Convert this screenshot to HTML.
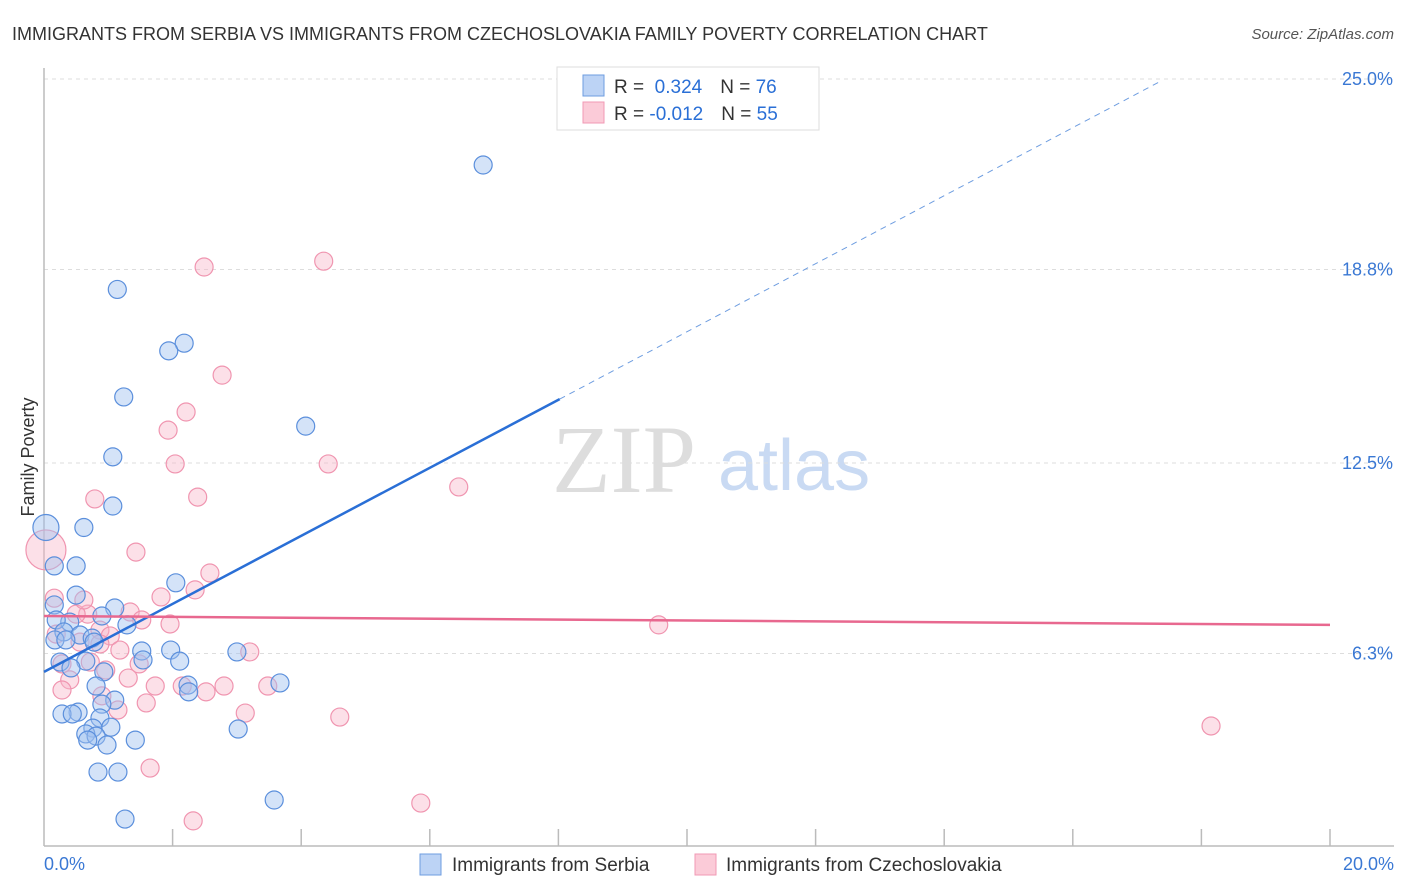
<!DOCTYPE html>
<html><head><meta charset="utf-8"><style>
body{margin:0;background:#fff;font-family:"Liberation Sans",sans-serif}
svg{display:block}
</style></head><body>
<svg id="chart" width="1406" height="892" xmlns="http://www.w3.org/2000/svg">
<text x="12" y="40" font-size="18" fill="#333">IMMIGRANTS FROM SERBIA VS IMMIGRANTS FROM CZECHOSLOVAKIA FAMILY POVERTY CORRELATION CHART</text>
<text x="1394" y="39" font-size="15" fill="#555" font-style="italic" text-anchor="end">Source: ZipAtlas.com</text>
<text x="34" y="457" font-size="18" fill="#333" transform="rotate(-90 34 457)" text-anchor="middle">Family Poverty</text>
<g><text x="552" y="492" font-size="96" fill="#ddd" font-family="Liberation Serif,serif">ZIP</text><text x="718" y="490" font-size="72" fill="#c9daf3">atlas</text></g>
<g id="grid"></g><g id="pts"></g><g id="lines"></g>
<g>
<rect x="557" y="67" width="262" height="63" fill="#fff" stroke="#ddd"/>
<rect x="583" y="75" width="21" height="21" fill="#bcd3f5" stroke="#6e9de0"/>
<rect x="583" y="102" width="21" height="21" fill="#fbcbd8" stroke="#f09ab4"/>
<text x="614" y="93" font-size="19" fill="#333">R = <tspan fill="#2a6fd6">&#160;0.324</tspan><tspan dx="18">N = </tspan><tspan fill="#2a6fd6">76</tspan></text>
<text x="614" y="120" font-size="19" fill="#333">R = <tspan fill="#2a6fd6">-0.012</tspan><tspan dx="18">N = </tspan><tspan fill="#2a6fd6">55</tspan></text>
</g>
<g>
<rect x="420" y="854" width="21" height="21" fill="#bcd3f5" stroke="#6e9de0"/>
<text x="452" y="871" font-size="19" fill="#333">Immigrants from Serbia</text>
<rect x="695" y="854" width="21" height="21" fill="#fbcbd8" stroke="#f09ab4"/>
<text x="726" y="871" font-size="19" fill="#333">Immigrants from Czechoslovakia</text>
</g>
</svg>
<script>
const yTicks=[25.0,18.8,12.5,6.3];
const yTickLabels=["25.0%","18.8%","12.5%","6.3%"];
const xLabels=["0.0%","20.0%"];
const serbiaX=[6.83,1.14,2.18,1.94,1.24,4.07,1.07,1.07,0.62,0.03,0.16,0.5,0.5,2.05,0.16,1.1,0.9,0.4,0.19,1.29,0.31,0.56,0.75,0.17,0.34,0.78,1.97,1.52,3.0,1.54,2.11,0.65,0.25,0.42,0.93,3.67,0.81,2.24,2.25,1.1,0.9,0.53,0.28,0.44,0.87,1.04,0.76,0.65,0.81,3.02,1.42,0.68,0.98,0.84,1.15,3.58,1.26];
const serbiaY=[22.2,18.15,16.4,16.15,14.65,13.7,12.7,11.1,10.4,10.4,9.15,9.15,8.2,8.6,7.88,7.78,7.52,7.32,7.39,7.23,7.0,6.9,6.8,6.74,6.74,6.67,6.41,6.38,6.35,6.09,6.05,6.05,6.02,5.83,5.7,5.34,5.24,5.27,5.05,4.78,4.65,4.39,4.33,4.33,4.2,3.9,3.87,3.68,3.61,3.84,3.48,3.48,3.32,2.44,2.44,1.53,0.91];
const czechX=[4.35,2.49,2.77,2.21,1.93,2.04,4.42,0.79,2.39,6.45,0.03,1.43,2.58,2.35,1.82,9.56,0.16,0.68,1.34,0.5,1.52,1.96,0.87,1.03,0.19,0.56,0.87,3.2,0.72,1.48,0.28,0.96,0.4,1.31,1.73,2.15,2.52,2.8,3.48,0.9,1.59,1.15,3.13,4.6,18.15,1.65,5.86,2.32,0.62,0.28,1.18];
const czechY=[19.07,18.88,15.36,14.16,13.57,12.47,12.47,11.33,11.39,11.72,9.67,9.6,8.92,8.37,8.14,7.23,8.1,7.58,7.65,7.58,7.39,7.26,7.06,6.87,6.93,6.67,6.61,6.35,6.02,5.96,5.96,5.76,5.44,5.5,5.24,5.24,5.05,5.24,5.24,4.92,4.69,4.46,4.36,4.23,3.94,2.57,1.43,0.85,8.04,5.11,6.41];
const serbiaTrend=[5.70,14.58]; const serbiaTrendX=[0,8.02]; const serbiaDashEnd=17.36;
const czechTrend=[7.52,7.23];
const NS="http://www.w3.org/2000/svg";
const xs=v=>44+v/20*1286, ys=v=>847-v/6.25*192;
function mk(t,a,p){const e=document.createElementNS(NS,t);for(const k in a)e.setAttribute(k,a[k]);p.appendChild(e);return e;}
const grid=document.getElementById('grid');
yTicks.forEach((t,i)=>{
 const l=mk('line',{x1:44,x2:1394,y1:ys(t),y2:ys(t),stroke:'#ddd','stroke-dasharray':'4 4'},grid);
 
 
 const tx=mk('text',{x:1393,y:ys(t)+6,'font-size':18,fill:'#3a78d4','text-anchor':'end'},grid);tx.textContent=yTickLabels[i];
 
 
});
const ax=mk('line',{x1:44,x2:44,y1:68,y2:846,stroke:'#bbb','stroke-width':1.5},grid);


const bx=mk('line',{x1:44,x2:1394,y1:846,y2:846,stroke:'#bbb','stroke-width':1.5},grid);


for(let v=2;v<=20;v+=2){const t=mk('line',{x1:xs(v),x2:xs(v),y1:829,y2:846,stroke:'#bbb','stroke-width':1.5},grid);
 
 }
[[0,'start',44],[20,'end',1394]].forEach((d,i)=>{const t=mk('text',{x:d[2],y:870,'font-size':18,fill:'#3a78d4','text-anchor':d[1]},grid);t.textContent=xLabels[i];
 
 });
const pts=document.getElementById('pts');
czechX.forEach((x,i)=>{const r=(i===10)?20:9;const c=mk('circle',{cx:xs(x),cy:ys(czechY[i]),r:r,fill:'rgba(248,180,200,0.42)',stroke:'#f095b0','stroke-width':1.2},pts);
 
 });
serbiaX.forEach((x,i)=>{const r=(i===9)?13:9;const c=mk('circle',{cx:xs(x),cy:ys(serbiaY[i]),r:r,fill:'rgba(160,194,240,0.45)',stroke:'#5b8fdc','stroke-width':1.2},pts);
 
 });
const lines=document.getElementById('lines');
const slope=(serbiaTrend[1]-serbiaTrend[0])/(serbiaTrendX[1]-serbiaTrendX[0]);
const l1=mk('line',{x1:xs(serbiaTrendX[0]),y1:ys(serbiaTrend[0]),x2:xs(serbiaTrendX[1]),y2:ys(serbiaTrend[1]),stroke:'#2a6fd6','stroke-width':2.5},lines);


const l2=mk('line',{x1:xs(serbiaTrendX[1]),y1:ys(serbiaTrend[1]),x2:xs(serbiaDashEnd),y2:ys(serbiaTrend[0]+slope*serbiaDashEnd),stroke:'#6e9de0','stroke-width':1,'stroke-dasharray':'6 5'},lines);


const l3=mk('line',{x1:xs(0),y1:ys(czechTrend[0]),x2:xs(20),y2:ys(czechTrend[1]),stroke:'#e8688f','stroke-width':2.5},lines);


</script>
</body></html>
